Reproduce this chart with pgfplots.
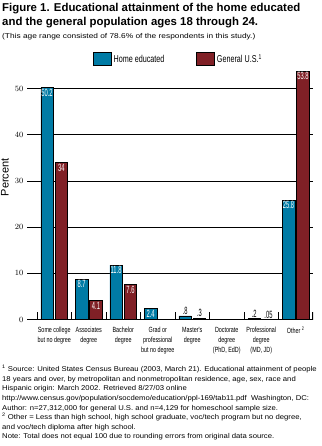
\documentclass[border=0pt]{standalone}
\usepackage{fontspec}
\setmainfont{Liberation Sans}
\newfontfamily\cond[FakeStretch=0.72]{Liberation Sans}
\newfontfamily\condb[FakeStretch=0.55]{Liberation Sans}
\newfontfamily\wide[FakeStretch=1.19]{Liberation Sans}
\newfontfamily\foot[FakeStretch=1.1]{Liberation Sans}
\usepackage{pgfplots}
\pgfplotsset{compat=1.18}
\definecolor{homeblue}{RGB}{0,123,165}
\definecolor{genred}{RGB}{128,32,38}

\begin{document}
\begin{tikzpicture}[x=1pt,y=1pt]
\path[use as bounding box] (0,0) rectangle (321,-446);
\node[anchor=north west, inner sep=0, font=\bfseries\fontsize{11.4}{14}\selectfont, align=left] at (2,-3) {Figure 1. Educational attainment of the home educated\\and the general population ages 18 through 24.};
\node[anchor=north west, inner sep=0, font=\wide\fontsize{7}{7}\selectfont] at (2,-33) {(This age range consisted of 78.6\% of the respondents in this study.)};
\begin{axis}[
  at={(27pt,-319.6pt)}, anchor=south west,
  scale only axis, width=286pt, height=254.1pt,
  xmin=-0.79, xmax=7.5, ymin=0, ymax=55,
  axis line style={draw=none},
  ybar,
  ytick={0,10,20,30,40,50},
  ymajorgrids, grid style={black, line width=0.8pt},
  major tick length=0pt,
  xtick={0,1,2,3,4,5,6,7}, xtick pos=bottom, ytick pos=left,
  xticklabels={{Some college\\but no degree},{Associates\\degree},{Bachelor\\degree},{Grad or\\professional\\but no degree},{Master's\\degree},{Doctorate\\degree\\(PhD, EdD)},{Professional\\degree\\(MD, JD)},{Other \textsuperscript{2}}},
  xticklabel style={font=\cond\fontsize{7.5}{10}\selectfont, align=center, anchor=north, yshift=-4pt},
  yticklabel style={font=\cond\fontsize{8}{9}\selectfont},
  ylabel={Percent},
  ylabel style={font=\fontsize{11}{12}\selectfont, at={(axis description cs:-0.077,0.56)}, anchor=center},
  legend style={draw=none, fill=none, at={(0.22,1.025)}, anchor=west, legend columns=2, font=\cond\fontsize{10}{11}\selectfont, /tikz/every even column/.append style={column sep=30pt}},
  legend image code/.code={\draw[#1, draw=black, line width=0.5pt] (0pt,-6pt) rectangle (18pt,7pt);},
]
\addplot[fill=homeblue, draw=black, line width=0.5pt, bar width=12.5pt, bar shift=-7.2pt] coordinates {(0,50.2) (1,8.7) (2,11.8) (3,2.4) (4,0.8) (6,0.2) (7,25.8)};
\addplot[fill=genred, draw=black, line width=0.5pt, bar width=12.5pt, bar shift=7.2pt] coordinates {(0,34) (1,4.1) (2,7.6) (4,0.3) (6,0.05) (7,53.8)};
\legend{Home educated, General U.S.\textsuperscript{1}}
\addplot[forget plot, draw=none, fill=none, bar width=12.5pt, bar shift=-7.2pt, point meta=explicit symbolic, nodes near coords, nodes near coords style={anchor=north, white, font=\condb\fontsize{10.5}{10}\selectfont, inner sep=1pt}] coordinates {(0,50.2)[50.2] (1,8.7)[8.7] (2,11.8)[11.8] (3,2.4)[2.4] (7,25.8)[25.8]};
\addplot[forget plot, draw=none, fill=none, bar width=12.5pt, bar shift=7.2pt, point meta=explicit symbolic, nodes near coords, nodes near coords style={anchor=north, white, font=\condb\fontsize{10.5}{10}\selectfont, inner sep=1pt}] coordinates {(0,34)[34] (1,4.1)[4.1] (2,7.6)[7.6] (7,53.8)[53.8]};
\addplot[forget plot, draw=none, fill=none, bar width=12.5pt, bar shift=-7.2pt, point meta=explicit symbolic, nodes near coords, nodes near coords style={anchor=south, black, font=\condb\fontsize{10.5}{10}\selectfont, inner sep=1pt}] coordinates {(4,0.8)[.8] (6,0.2)[.2]};
\addplot[forget plot, draw=none, fill=none, bar width=12.5pt, bar shift=7.2pt, point meta=explicit symbolic, nodes near coords, nodes near coords style={anchor=south, black, font=\condb\fontsize{10.5}{10}\selectfont, inner sep=1pt}] coordinates {(4,0.3)[.3] (6,0.05)[.05]};
\pgfplotsinvokeforeach{-0.5,0.5,1.5,2.5,3.5,4.5,5.5,6.5}{\draw[line width=0.8pt] (axis cs:#1,0) -- ([yshift=8pt]axis cs:#1,0);}
\draw[line width=1.6pt] (axis cs:7.5,0) -- ([yshift=8pt]axis cs:7.5,0);
\end{axis}
\node[anchor=north west, inner sep=0, font=\foot\fontsize{7}{9.6}\selectfont, align=left] at (2,-365) {\textsuperscript{1} Source: United States Census Bureau (2003, March 21). Educational attainment of people\\18 years and over, by metropolitan and nonmetropolitan residence, age, sex, race and\\Hispanic origin: March 2002. Retrieved 8/27/03 online\\http://www.census.gov/population/socdemo/education/ppl-169/tab11.pdf\ \ Washington, DC:\\Author: n=27,312,000 for general U.S. and n=4,129 for homeschool sample size.\\\textsuperscript{2} Other = Less than high school, high school graduate, voc/tech program but no degree,\\and voc/tech diploma after high school.\\Note: Total does not equal 100 due to rounding errors from original data source.};
\end{tikzpicture}
\end{document}
